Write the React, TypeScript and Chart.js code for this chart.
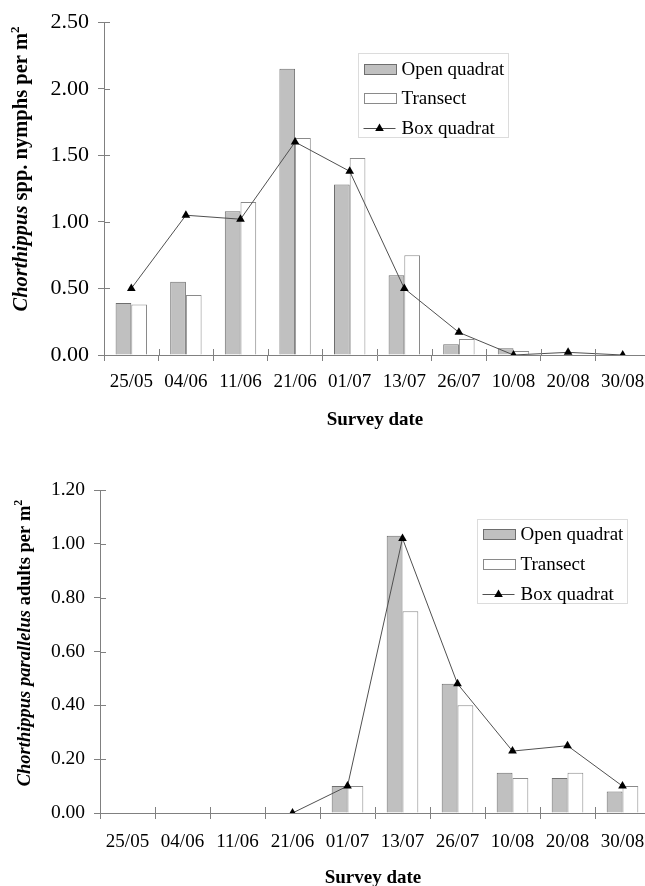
import React, { useEffect, useRef } from 'react';
import { Chart, registerables } from 'chart.js';

Chart.register(...registerables);

// ---------- data ----------
const surveyDates = ['25/05', '04/06', '11/06', '21/06', '01/07', '13/07', '26/07', '10/08', '20/08', '30/08'];

const nymphOpenQuadrat = [0.39, 0.55, 1.08, 2.15, 1.28, 0.6, 0.08, 0.05, 0, 0];
const nymphTransect = [0.38, 0.45, 1.15, 1.63, 1.48, 0.75, 0.12, 0.03, 0, 0];
const nymphBoxQuadrat = [0.5, 1.05, 1.02, 1.6, 1.38, 0.5, 0.17, 0.0, 0.02, 0.0];

const adultOpenQuadrat = [0, 0, 0, 0, 0.1, 1.03, 0.48, 0.15, 0.13, 0.08];
const adultTransect = [0, 0, 0, 0, 0.1, 0.75, 0.4, 0.13, 0.15, 0.1];
const adultBoxQuadrat = [null, null, null, 0.0, 0.1, 1.02, 0.48, 0.23, 0.25, 0.1];

const seriesNames = ['Open quadrat', 'Transect', 'Box quadrat'];
const xAxisTitle = 'Survey date';
const nymphTitleParts = [
  { text: 'Chorthippus', italic: true },
  { text: ' spp. nymphs per m' },
  { text: '2', sup: true },
];
const adultTitleParts = [
  { text: 'Chorthippus parallelus', italic: true },
  { text: ' adults per m' },
  { text: '2', sup: true },
];

// ---------- styles ----------
const FONT = '"Liberation Serif", "Times New Roman", serif';
const AXIS_COLOR = '#808080';
const OPEN_FILL = '#c0c0c0';
const OPEN_BORDER = '#6e6e6e';
const TRANS_FILL = '#ffffff';
const TRANS_BORDER = '#8a8a8a';
const LINE_COLOR = '#505050';

type TitlePart = { text: string; italic?: boolean; sup?: boolean };

function drawTriangle(ctx: CanvasRenderingContext2D, x: number, y: number, r: number) {
  ctx.beginPath();
  ctx.moveTo(x, y - r);
  ctx.lineTo(x + r * Math.sin(Math.PI / 3 * 2), y + r * 0.5);
  ctx.lineTo(x - r * Math.sin(Math.PI / 3 * 2), y + r * 0.5);
  ctx.closePath();
  ctx.fill();
}

function makeDecor(o: {
  titleParts: TitlePart[];
  titleSize: number;
  titleX: number;
  titleY: number;
  xTitleX: number;
  xTitleY: number;
  legendX: number;
  legendY: number;
}) {
  return {
    id: 'decor',
    afterDraw(chart: any) {
      const ctx: CanvasRenderingContext2D = chart.ctx;
      const { left, right, bottom } = chart.chartArea;
      const xs = chart.scales.x;
      const ys = chart.scales.y;
      ctx.save();
      // inner halves of the crossing tick marks
      ctx.strokeStyle = AXIS_COLOR;
      ctx.lineWidth = 1;
      ctx.beginPath();
      ys.ticks.forEach((_t: any, i: number) => {
        const y = Math.round(ys.getPixelForTick(i)) + 0.5;
        ctx.moveTo(left, y);
        ctx.lineTo(left + 6, y);
      });
      const n = xs.ticks.length;
      const w = (right - left) / n;
      for (let i = 0; i <= n; i++) {
        const x = Math.round(left + i * w) + 0.5;
        ctx.moveTo(x, bottom);
        ctx.lineTo(x, bottom - 6);
      }
      ctx.stroke();

      // x axis title
      ctx.fillStyle = '#000';
      ctx.font = `bold 19px ${FONT}`;
      ctx.textAlign = 'center';
      ctx.textBaseline = 'middle';
      ctx.fillText(xAxisTitle, o.xTitleX, o.xTitleY);

      // y axis title (rotated, mixed styles)
      const fontFor = (p: TitlePart) =>
        `${p.italic ? 'italic ' : ''}bold ${p.sup ? Math.round(o.titleSize * 0.63) : o.titleSize}px ${FONT}`;
      let total = 0;
      const widths = o.titleParts.map((p) => {
        ctx.font = fontFor(p);
        const wd = ctx.measureText(p.text).width;
        total += wd;
        return wd;
      });
      ctx.translate(o.titleX, o.titleY);
      ctx.rotate(-Math.PI / 2);
      ctx.textAlign = 'left';
      ctx.textBaseline = 'middle';
      let cx = -total / 2;
      o.titleParts.forEach((p, i) => {
        ctx.font = fontFor(p);
        ctx.fillText(p.text, cx, p.sup ? -6 : 0);
        cx += widths[i];
      });
      ctx.setTransform(1, 0, 0, 1, 0, 0);

      // legend
      const lx = o.legendX;
      const ly = o.legendY;
      const gap = 29.7;
      ctx.strokeStyle = '#dcdcdc';
      ctx.strokeRect(Math.round(lx) + 0.5, Math.round(ly - 15.5) + 0.5, 150, Math.round(15.5 + 2 * gap + 9.5));
      // open quadrat swatch
      ctx.fillStyle = OPEN_FILL;
      ctx.strokeStyle = OPEN_BORDER;
      ctx.fillRect(Math.round(lx + 6) + 0.5, Math.round(ly - 5) + 0.5, 32, 10);
      ctx.strokeRect(Math.round(lx + 6) + 0.5, Math.round(ly - 5) + 0.5, 32, 10);
      // transect swatch
      ctx.fillStyle = TRANS_FILL;
      ctx.strokeStyle = TRANS_BORDER;
      ctx.fillRect(Math.round(lx + 6) + 0.5, Math.round(ly + gap - 5) + 0.5, 32, 10);
      ctx.strokeRect(Math.round(lx + 6) + 0.5, Math.round(ly + gap - 5) + 0.5, 32, 10);
      // box quadrat line + triangle
      const by = Math.round(ly + 2 * gap) + 0.5;
      ctx.strokeStyle = LINE_COLOR;
      ctx.beginPath();
      ctx.moveTo(lx + 6, by);
      ctx.lineTo(lx + 38, by);
      ctx.stroke();
      ctx.fillStyle = '#000';
      drawTriangle(ctx, lx + 22, by, 5);
      // texts
      ctx.font = `19px ${FONT}`;
      ctx.fillStyle = '#000';
      ctx.textAlign = 'left';
      ctx.textBaseline = 'middle';
      seriesNames.forEach((s, i) => ctx.fillText(s, lx + 44, ly + i * gap + 1));
      ctx.restore();
    },
  };
}

function makeConfig(p: {
  open: (number | null)[];
  transect: (number | null)[];
  box: (number | null)[];
  max: number;
  step: number;
  top: number;
  axisLeft: number;
  xAxisHeight: number;
  xPad: number;
  yTickSize: number;
  decor: any;
}) {
  return {
    type: 'bar' as const,
    data: {
      labels: surveyDates,
      datasets: [
        {
          type: 'line' as const,
          label: seriesNames[2],
          data: p.box,
          borderColor: LINE_COLOR,
          borderWidth: 1,
          pointStyle: 'triangle',
          pointRadius: 5,
          pointBackgroundColor: '#000',
          pointBorderColor: '#000',
          pointBorderWidth: 0,
          spanGaps: false,
          tension: 0,
          order: 0,
        },
        {
          type: 'bar' as const,
          label: seriesNames[0],
          data: p.open,
          backgroundColor: OPEN_FILL,
          borderColor: OPEN_BORDER,
          borderWidth: 1,
          categoryPercentage: 0.575,
          barPercentage: 1.0,
          order: 1,
        },
        {
          type: 'bar' as const,
          label: seriesNames[1],
          data: p.transect,
          backgroundColor: TRANS_FILL,
          borderColor: TRANS_BORDER,
          borderWidth: 1,
          categoryPercentage: 0.575,
          barPercentage: 1.0,
          order: 1,
        },
      ],
    },
    options: {
      responsive: false,
      animation: false,
      devicePixelRatio: 1,
      layout: { padding: { top: p.top, right: 10, left: 0, bottom: 0 } },
      plugins: { legend: { display: false }, tooltip: { enabled: false }, title: { display: false } },
      scales: {
        x: {
          offset: true,
          grid: {
            display: true,
            offset: true,
            drawOnChartArea: false,
            drawTicks: true,
            tickLength: 6,
            color: AXIS_COLOR,
          },
          border: { display: true, color: AXIS_COLOR, width: 1 },
          ticks: {
            color: '#000',
            font: { family: FONT, size: 19 },
            padding: p.xPad,
            maxRotation: 0,
            autoSkip: false,
          },
          afterFit: (s: any) => {
            s.height = p.xAxisHeight;
          },
        },
        y: {
          min: 0,
          max: p.max,
          grid: {
            display: true,
            drawOnChartArea: false,
            drawTicks: true,
            tickLength: 6,
            color: AXIS_COLOR,
          },
          border: { display: true, color: AXIS_COLOR, width: 1 },
          ticks: {
            stepSize: p.step,
            color: '#000',
            font: { family: FONT, size: p.yTickSize },
            padding: 9,
            callback: (v: any) => Number(v).toFixed(2),
          },
          afterFit: (s: any) => {
            s.width = p.axisLeft;
          },
        },
      },
    },
    plugins: [p.decor],
  };
}

export default function App() {
  const topRef = useRef<HTMLCanvasElement>(null);
  const botRef = useRef<HTMLCanvasElement>(null);

  useEffect(() => {
    const top = new Chart(
      topRef.current as HTMLCanvasElement,
      makeConfig({
        open: nymphOpenQuadrat,
        transect: nymphTransect,
        box: nymphBoxQuadrat,
        max: 2.5,
        step: 0.5,
        top: 17,
        axisLeft: 104,
        xAxisHeight: 88,
        xPad: 10,
        yTickSize: 22,
        decor: makeDecor({
          titleParts: nymphTitleParts,
          titleSize: 20.5,
          titleX: 22,
          titleY: 169,
          xTitleX: 375,
          xTitleY: 420,
          legendX: 357.5,
          legendY: 68.7,
        }),
      }) as any
    );
    const bot = new Chart(
      botRef.current as HTMLCanvasElement,
      makeConfig({
        open: adultOpenQuadrat,
        transect: adultTransect,
        box: adultBoxQuadrat,
        max: 1.2,
        step: 0.2,
        top: 47,
        axisLeft: 100,
        xAxisHeight: 73,
        xPad: 12,
        yTickSize: 19.5,
        decor: makeDecor({
          titleParts: adultTitleParts,
          titleSize: 18.5,
          titleX: 25,
          titleY: 200,
          xTitleX: 373,
          xTitleY: 435,
          legendX: 476.5,
          legendY: 91.3,
        }),
      }) as any
    );
    return () => {
      top.destroy();
      bot.destroy();
    };
  }, []);

  return (
    <div
      style={{
        position: 'absolute',
        left: 0,
        top: 0,
        width: 645,
        height: 886,
        overflow: 'hidden',
        background: '#fff',
      }}
    >
      <canvas
        ref={topRef}
        width={660}
        height={443}
        style={{ position: 'absolute', left: 0, top: 0, display: 'block' }}
      />
      <canvas
        ref={botRef}
        width={660}
        height={443}
        style={{ position: 'absolute', left: 0, top: 443, display: 'block' }}
      />
    </div>
  );
}
